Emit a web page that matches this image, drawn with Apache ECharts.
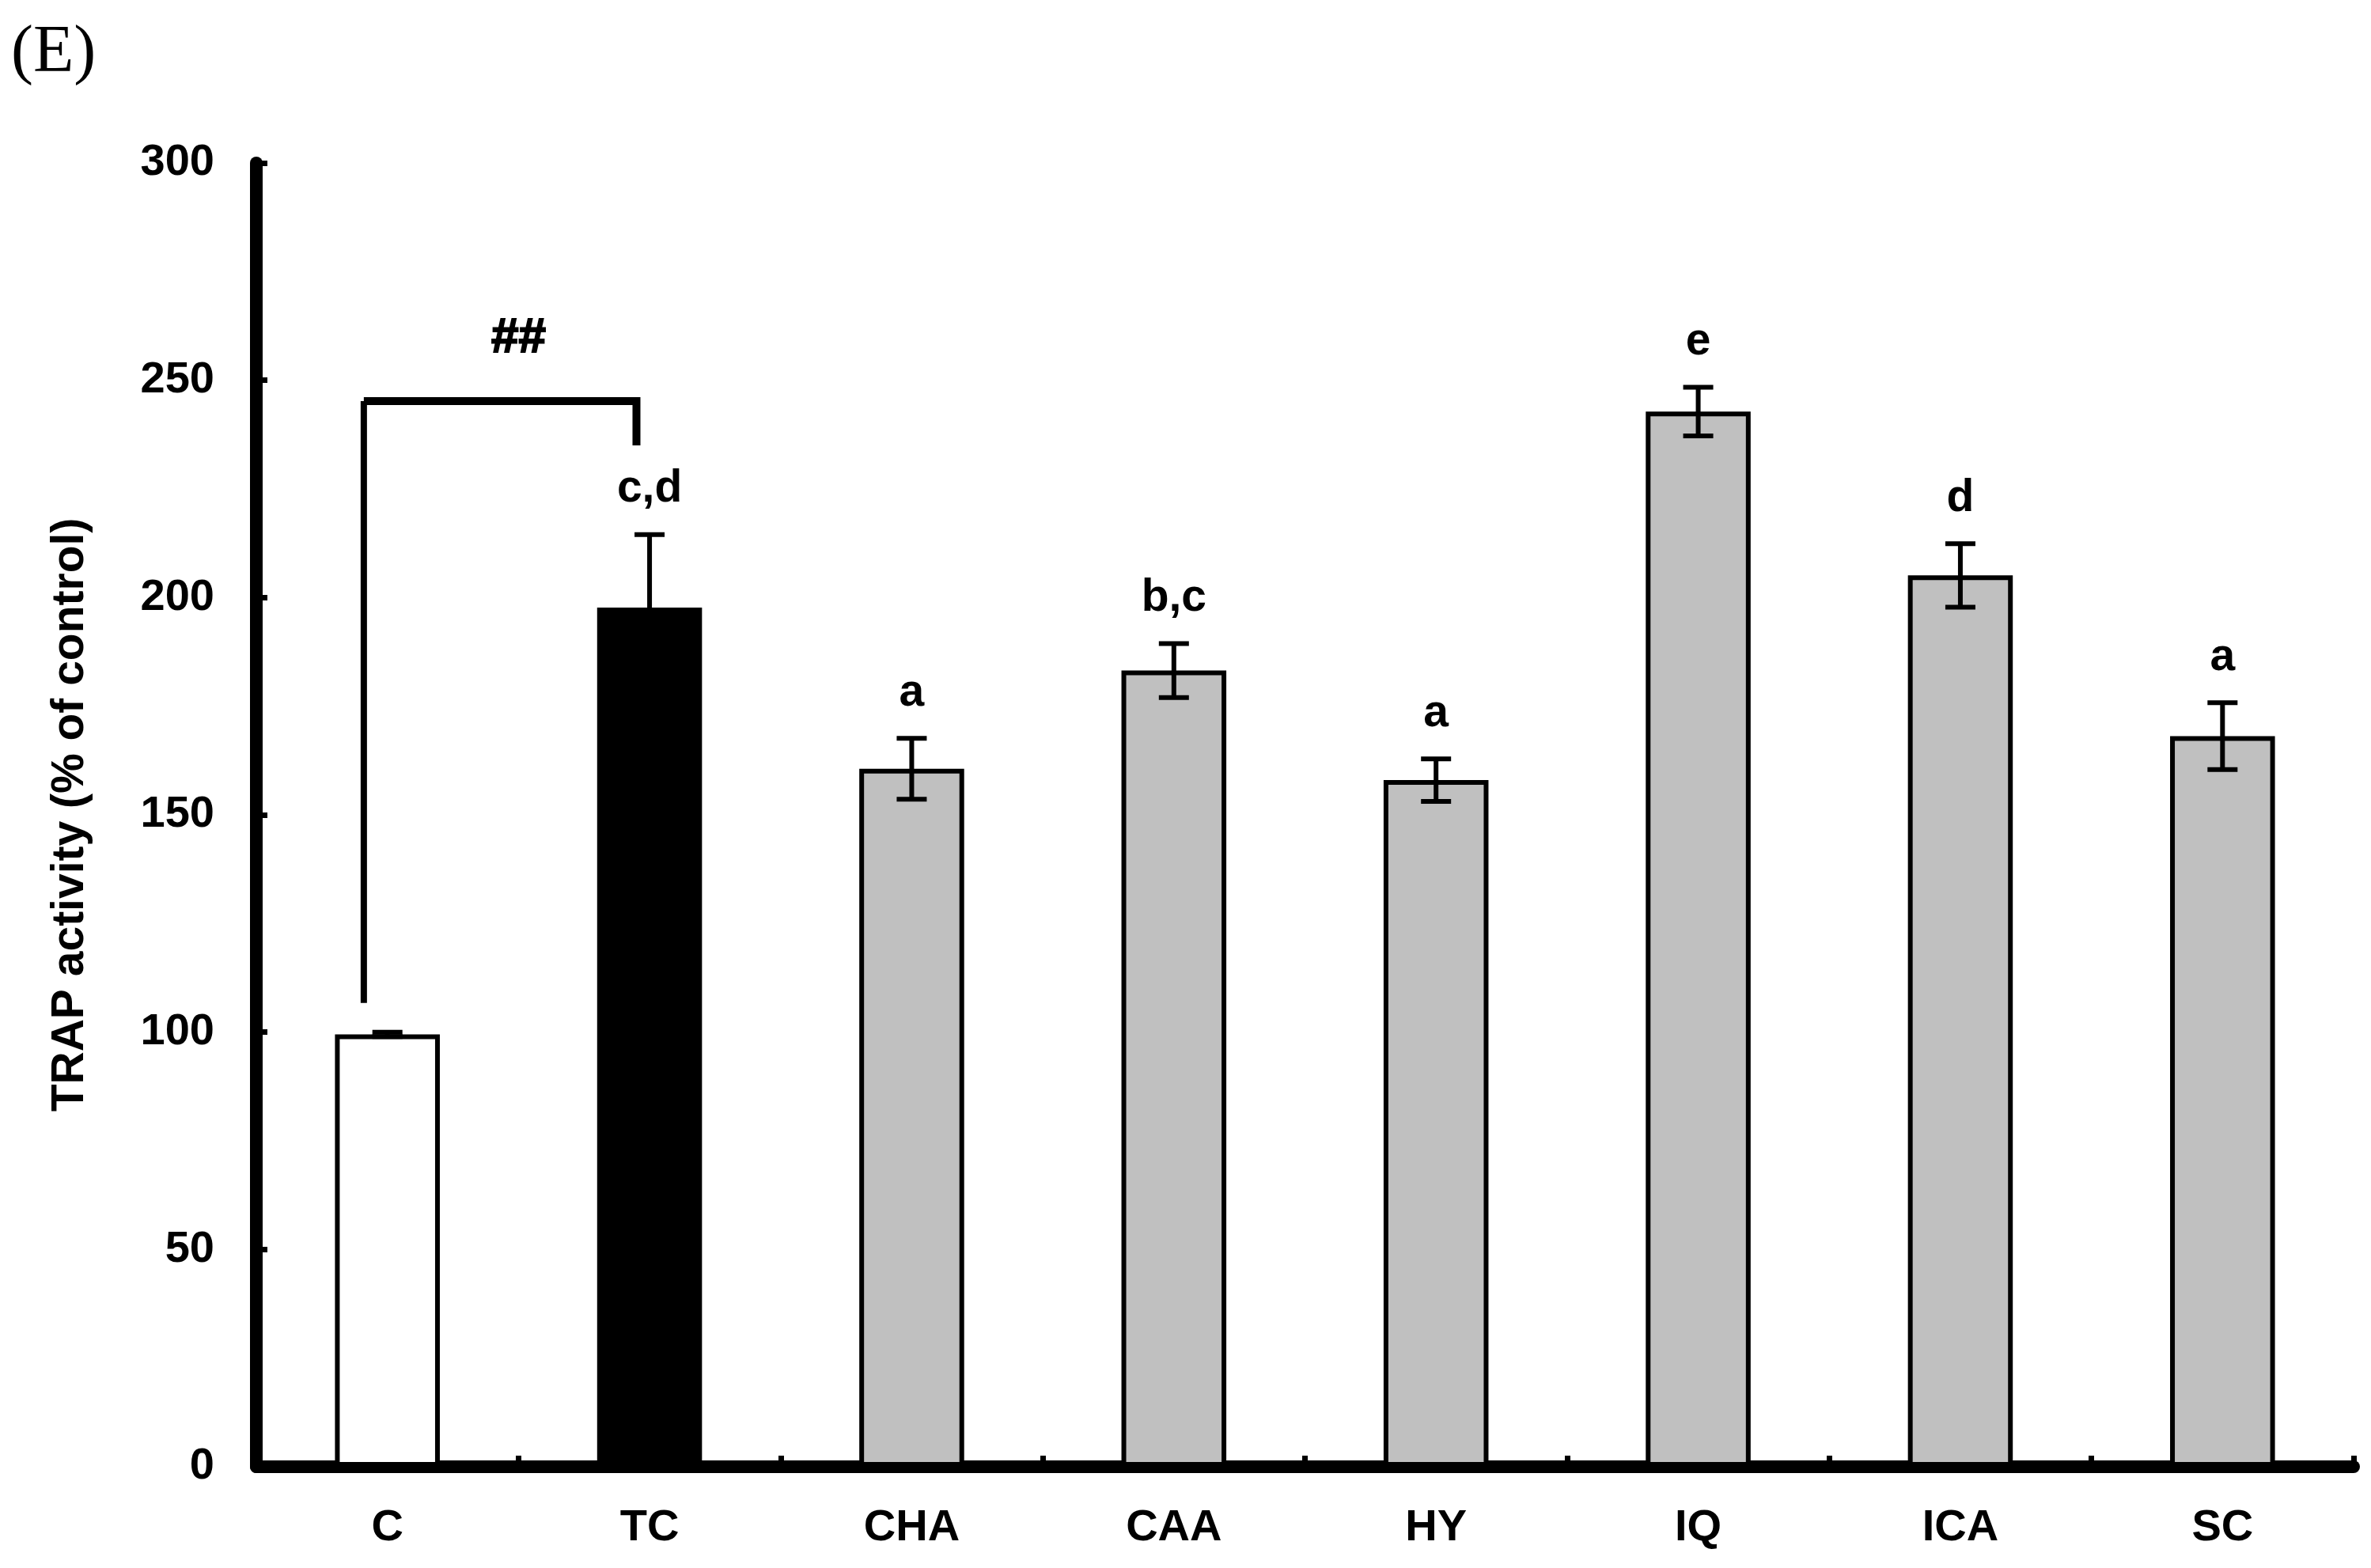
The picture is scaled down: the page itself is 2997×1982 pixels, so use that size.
<!DOCTYPE html>
<html>
<head>
<meta charset="utf-8">
<script src="https://cdn.jsdelivr.net/npm/echarts@6/dist/echarts.min.js"></script>
<style>
html,body{margin:0;padding:0;background:#fff;}
#chart{width:2997px;height:1982px;}
</style>
</head>
<body>
<div id="chart"></div>
<script>
var categories = ['C', 'TC', 'CHA', 'CAA', 'HY', 'IQ', 'ICA', 'SC'];
var means = [99.5, 197.7, 160.6, 183.2, 158.0, 242.8, 205.1, 168.1];
var errors = [0.5, 16.8, 7.0, 6.2, 4.9, 5.6, 7.3, 7.7];
var letters = ['', 'c,d', 'a', 'b,c', 'a', 'e', 'd', 'a'];
var barColors = ['#ffffff', '#000000', '#c0c0c0', '#c0c0c0', '#c0c0c0', '#c0c0c0', '#c0c0c0', '#c0c0c0'];
var yTicks = [0, 50, 100, 150, 200, 250, 300];
// significance bracket between C and TC: [top level, left foot, right foot, label level]
var bracketLevels = [245.2, 106.7, 235.0, 259.6];
var bracketLabel = '##';

var FONT = '"Liberation Sans", Arial, Helvetica, sans-serif';

var chart = echarts.init(document.getElementById('chart'), null, {renderer: 'canvas'});

var barData = means.map(function (v, i) {
  return {value: v, itemStyle: {color: barColors[i]}};
});
var errData = means.map(function (v, i) { return [i, v, errors[i]]; });

var option = {
  animation: false,
  backgroundColor: '#ffffff',
  grid: {left: 324, right: 22, top: 206, bottom: 128, containLabel: false},
  graphic: [{
    type: 'text', left: 14, top: 26,
    style: {text: '(E)', font: '84px "Liberation Serif", "Times New Roman", serif', fill: '#000'}
  }],
  xAxis: {
    type: 'category',
    data: categories,
    boundaryGap: true,
    axisLine: {show: true, lineStyle: {color: '#000', width: 16}},
    axisTick: {show: true, inside: true, length: 14, lineStyle: {color: '#000', width: 7}},
    axisLabel: {color: '#000', fontFamily: FONT, fontWeight: 'bold', fontSize: 56, margin: 50},
    splitLine: {show: false}
  },
  yAxis: {
    type: 'value',
    min: 0, max: 300, interval: 50,
    name: 'TRAP activity (% of control)',
    nameLocation: 'middle',
    nameRotate: 90,
    nameGap: 206,
    nameTextStyle: {color: '#000', fontFamily: FONT, fontWeight: 'bold', fontSize: 57, padding: [0, 0, 0, 0]},
    axisLine: {show: true, lineStyle: {color: '#000', width: 16}},
    axisTick: {show: true, inside: true, length: 14, lineStyle: {color: '#000', width: 7}},
    axisLabel: {
      color: '#000', fontFamily: FONT, fontWeight: 'bold', fontSize: 56, margin: 53,
      customValues: yTicks
    },
    splitLine: {show: false}
  },
  series: [
    {
      type: 'bar',
      data: barData,
      barWidth: '40%',
      itemStyle: {borderColor: '#000', borderWidth: 6},
      z: 2
    },
    {
      type: 'custom',
      data: errData,
      z: 10,
      renderItem: function (params, api) {
        var i = api.value(0), m = api.value(1), e = api.value(2);
        var top = api.coord([i, m + e]);
        var bot = api.coord([i, m - e]);
        var cw = 19;
        var st = {stroke: '#000', lineWidth: 6};
        var children = [
          {type: 'line', shape: {x1: top[0], y1: top[1], x2: bot[0], y2: bot[1]}, style: st},
          {type: 'line', shape: {x1: top[0] - cw, y1: top[1], x2: top[0] + cw, y2: top[1]}, style: st},
          {type: 'line', shape: {x1: bot[0] - cw, y1: bot[1], x2: bot[0] + cw, y2: bot[1]}, style: st}
        ];
        var txt = letters[params.dataIndex];
        if (txt) {
          children.push({
            type: 'text',
            style: {
              text: txt, x: top[0], y: top[1] - 57,
              align: 'center', verticalAlign: 'middle',
              fontFamily: FONT, fontWeight: 'bold', fontSize: 57, fill: '#000'
            }
          });
        }
        return {type: 'group', children: children};
      }
    },
    {
      type: 'custom',
      data: [[0, 1]],
      z: 11,
      renderItem: function (params, api) {
        var band = api.size([1, 0])[0];
        var c0 = api.coord([0, bracketLevels[0]]);
        var c1 = api.coord([1, bracketLevels[0]]);
        var lx = c0[0] - band * 0.09;
        var rx = c1[0] - band * 0.05;
        var ty = c0[1];
        var ly = api.coord([0, bracketLevels[1]])[1];
        var ry = api.coord([1, bracketLevels[2]])[1];
        var hy = api.coord([0, bracketLevels[3]])[1];
        return {
          type: 'group',
          children: [
            {type: 'line', shape: {x1: lx, y1: ty, x2: lx, y2: ly}, style: {stroke: '#000', lineWidth: 8}},
            {type: 'polyline', shape: {points: [[lx, ty], [rx, ty], [rx, ry]]}, style: {stroke: '#000', lineWidth: 10, fill: null, lineJoin: 'miter'}},
            {type: 'text', style: {
              text: bracketLabel, x: (c0[0] + c1[0]) / 2, y: hy,
              align: 'center', verticalAlign: 'middle',
              fontFamily: FONT, fontWeight: 'bold', fontSize: 62, fill: '#000',
              stroke: '#000', lineWidth: 2
            }}
          ]
        };
      }
    }
  ]
};
chart.setOption(option);
</script>
</body>
</html>
